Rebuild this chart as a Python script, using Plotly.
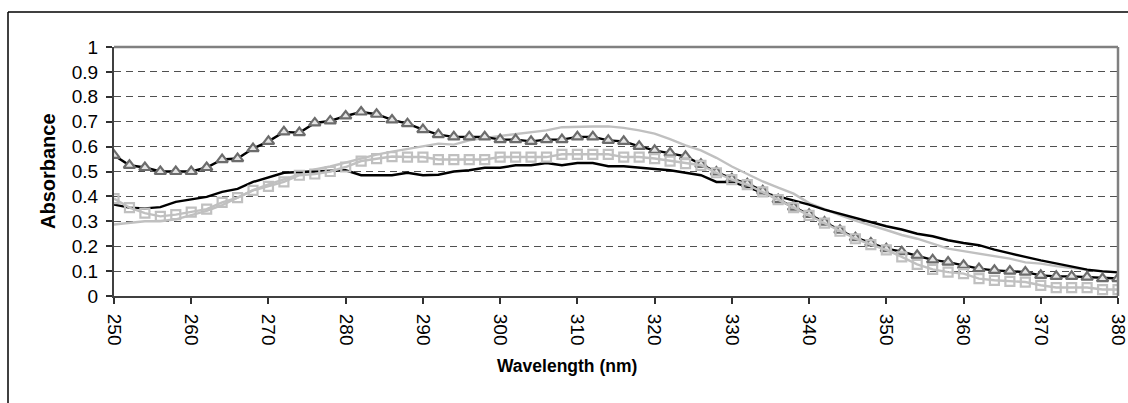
import plotly.graph_objects as go

# Wavelength grid (nm), sampled every 2 nm
wavelength = list(range(250, 381, 2))

# Absorbance spectra
abs_black = [0.367, 0.355, 0.352, 0.357, 0.378, 0.387, 0.398, 0.418, 0.430, 0.458,
             0.475, 0.495, 0.498, 0.500, 0.505, 0.505, 0.485, 0.485, 0.485, 0.495,
             0.485, 0.487, 0.500, 0.505, 0.515, 0.515, 0.525, 0.525, 0.534, 0.525,
             0.534, 0.534, 0.521, 0.521, 0.514, 0.510, 0.505, 0.495, 0.485, 0.458,
             0.458, 0.438, 0.414, 0.400, 0.384, 0.367, 0.347, 0.330, 0.311, 0.295,
             0.280, 0.267, 0.250, 0.240, 0.224, 0.213, 0.204, 0.186, 0.170, 0.157,
             0.143, 0.130, 0.116, 0.106, 0.099, 0.095]

abs_grey = [0.287, 0.295, 0.300, 0.300, 0.308, 0.325, 0.342, 0.365, 0.395, 0.425,
            0.448, 0.468, 0.490, 0.508, 0.520, 0.536, 0.552, 0.568, 0.580, 0.590,
            0.600, 0.612, 0.608, 0.625, 0.635, 0.642, 0.650, 0.658, 0.665, 0.678,
            0.681, 0.681, 0.681, 0.675, 0.665, 0.652, 0.630, 0.605, 0.585, 0.555,
            0.520, 0.490, 0.460, 0.435, 0.411, 0.373, 0.348, 0.325, 0.303, 0.285,
            0.265, 0.245, 0.230, 0.210, 0.190, 0.180, 0.170, 0.160, 0.150, 0.135,
            0.130, 0.120, 0.112, 0.105, 0.100, 0.096]

abs_triangle = [0.565, 0.525, 0.516, 0.500, 0.500, 0.500, 0.516, 0.548, 0.552, 0.592,
                0.621, 0.659, 0.656, 0.695, 0.703, 0.723, 0.739, 0.730, 0.707, 0.692,
                0.668, 0.648, 0.639, 0.639, 0.639, 0.628, 0.628, 0.621, 0.628, 0.628,
                0.639, 0.639, 0.625, 0.621, 0.601, 0.585, 0.574, 0.561, 0.529, 0.498,
                0.471, 0.451, 0.422, 0.387, 0.357, 0.328, 0.297, 0.264, 0.234, 0.213,
                0.190, 0.178, 0.163, 0.145, 0.136, 0.123, 0.110, 0.103, 0.100, 0.096,
                0.083, 0.079, 0.079, 0.076, 0.070, 0.070]

abs_square = [0.391, 0.355, 0.333, 0.320, 0.327, 0.337, 0.349, 0.376, 0.395, 0.424,
              0.440, 0.458, 0.485, 0.490, 0.500, 0.518, 0.542, 0.552, 0.560, 0.558,
              0.558, 0.548, 0.548, 0.548, 0.548, 0.558, 0.558, 0.558, 0.558, 0.569,
              0.569, 0.569, 0.569, 0.558, 0.558, 0.552, 0.542, 0.532, 0.525, 0.495,
              0.467, 0.447, 0.418, 0.387, 0.355, 0.324, 0.293, 0.260, 0.230, 0.206,
              0.185, 0.157, 0.127, 0.107, 0.096, 0.090, 0.070, 0.063, 0.059, 0.056,
              0.043, 0.034, 0.034, 0.034, 0.026, 0.026]

y_ticks = [0, 0.1, 0.2, 0.3, 0.4, 0.5, 0.6, 0.7, 0.8, 0.9, 1]
x_ticks = list(range(250, 381, 10))

FONT = "Liberation Sans, Arial, sans-serif"
W, H = 1128, 403
L, R, T, B = 114, 10, 47, 107
PW, PH = W - L - R, H - T - B


def px_x(px):
    return (px - L) / PW


def px_y(py):
    return (H - B - py) / PH


fig = go.Figure()

fig.add_trace(go.Scatter(x=wavelength, y=abs_grey, mode="lines",
                         line=dict(color="#c0c0c0", width=2.4)))
fig.add_trace(go.Scatter(x=wavelength, y=abs_black, mode="lines",
                         line=dict(color="#000000", width=2.4)))
fig.add_trace(go.Scatter(x=wavelength, y=abs_triangle, mode="lines+markers",
                         line=dict(color="#000000", width=2.4),
                         marker=dict(symbol="triangle-up", size=10, color="#e4e4e4",
                                     line=dict(color="#6c6c6c", width=2.2))))
fig.add_trace(go.Scatter(x=wavelength, y=abs_square, mode="lines+markers",
                         line=dict(color="#c0c0c0", width=2.4),
                         marker=dict(symbol="square-open", size=9, color="#c0c0c0",
                                     line=dict(width=2.2))))

axis_font = dict(family=FONT, size=19, color="#000000")

fig.update_xaxes(range=[250, 380], tickvals=x_ticks, ticktext=[str(v) for v in x_ticks],
                 tickangle=90, ticks="outside", ticklen=6, tickwidth=1.5, tickcolor="#303030",
                 ticklabelstandoff=6, ticklabeloverflow="allow", automargin=False,
                 showline=True, linecolor="#404040", linewidth=2, showgrid=False,
                 zeroline=False, tickfont=axis_font)
fig.update_yaxes(range=[0, 1], tickvals=y_ticks, ticktext=[f"{v:g}" for v in y_ticks],
                 ticks="outside", ticklen=6, tickwidth=1.5, tickcolor="#303030",
                 ticklabelstandoff=4, ticklabeloverflow="allow", automargin=False,
                 showline=True, linecolor="#404040", linewidth=2,
                 showgrid=True, gridcolor="#505050", gridwidth=1, griddash="7px,5px",
                 zeroline=False, tickfont=axis_font)

shapes = [
    # plot-area border (top and right)
    dict(type="line", xref="paper", yref="paper", x0=0, x1=1, y0=1, y1=1,
         line=dict(color="#808080", width=2.5)),
    dict(type="line", xref="paper", yref="paper", x0=1, x1=1, y0=0, y1=1,
         line=dict(color="#808080", width=2.5)),
    # chart-area frame
    dict(type="line", xref="paper", yref="paper", x0=px_x(8), x1=px_x(W + 2),
         y0=px_y(12), y1=px_y(12), line=dict(color="#000000", width=1.5)),
    dict(type="line", xref="paper", yref="paper", x0=px_x(8), x1=px_x(8),
         y0=px_y(12), y1=px_y(H + 2), line=dict(color="#000000", width=1.5)),
]

annotations = [
    dict(text="<b>Wavelength (nm)</b>", xref="paper", yref="paper",
         x=px_x(567), y=px_y(366), xanchor="center", yanchor="middle", showarrow=False,
         font=dict(family=FONT, size=17.5, color="#000000")),
    dict(text="<b>Absorbance</b>", xref="paper", yref="paper",
         x=px_x(48), y=px_y(171), xanchor="center", yanchor="middle", showarrow=False,
         textangle=-90, font=dict(family=FONT, size=20, color="#000000")),
]

fig.update_layout(width=W, height=H, margin=dict(l=L, r=R, t=T, b=B),
                  paper_bgcolor="#ffffff", plot_bgcolor="#ffffff",
                  showlegend=False, shapes=shapes, annotations=annotations)

fig.write_html("out.html")
